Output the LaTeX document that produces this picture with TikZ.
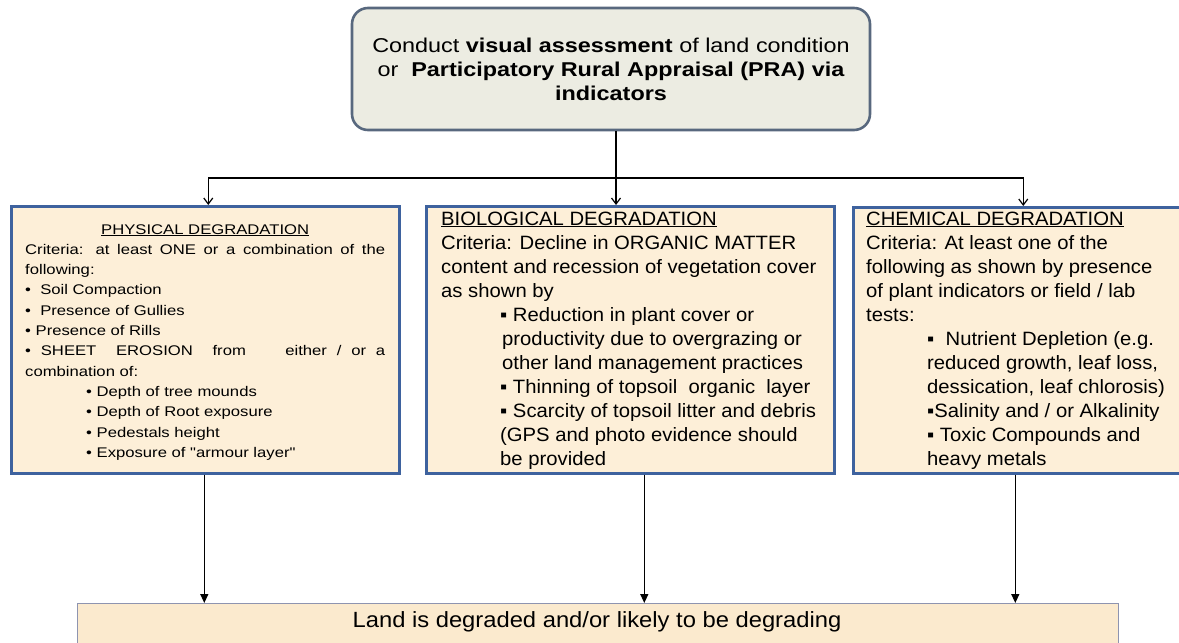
\documentclass[tikz,border=0pt]{standalone}
\usepackage{fontspec}
\setmainfont{Liberation Sans}
\newfontfamily\topf[FakeStretch=1.17]{Liberation Sans}
\newfontfamily\leftf[FakeStretch=1.19]{Liberation Sans}
\newfontfamily\midf[FakeStretch=1.05]{Liberation Sans}
\newfontfamily\landf[FakeStretch=1.08]{Liberation Sans}
\usetikzlibrary{arrows.meta}
\definecolor{sidefill}{RGB}{253,239,216}
\definecolor{sideedge}{RGB}{62,98,158}
\definecolor{topfill}{RGB}{236,236,226}
\definecolor{topedge}{RGB}{88,104,126}
\definecolor{landfill}{RGB}{251,234,206}
\definecolor{landedge}{RGB}{142,148,176}
\tikzset{
  sidebox/.style={draw=sideedge, fill=sidefill, line width=2.6pt, rectangle, anchor=north west, inner sep=0pt},
  topbox/.style={draw=topedge, fill=topfill, line width=2.6pt, rounded corners=16pt, inner sep=0pt, align=center,
    font={\topf\fontsize{20}{24}\selectfont}},
  landbox/.style={draw=landedge, fill=landfill, line width=1pt, rectangle, anchor=north west, inner sep=0pt},
  txt/.style={inner sep=0pt, anchor=base west},
  openarr/.style={-{Straight Barb[length=6pt,width=9pt]}, line width=1.2pt},
  conn/.style={line width=1.2pt},
  triarr/.style={-{Triangle[length=9pt,width=8pt]}, line width=1.3pt},
}
\begin{document}
\begin{tikzpicture}[x=1pt,y=-1pt]
\useasboundingbox[fill=white] (0,0) rectangle (1179,643);
% top box
\node[topbox, minimum width=518pt, minimum height=122pt] (top) at (611,69)
  {Conduct \textbf{visual assessment} of land condition\\
   or\ \ \textbf{Participatory Rural Appraisal (PRA) via}\\
   \textbf{indicators}};
% side boxes
\node[sidebox, minimum width=388pt, minimum height=267pt] (phys) at (10,205) {};
\node[sidebox, minimum width=408pt, minimum height=267pt] (bio) at (425,205) {};
\node[sidebox, minimum width=340pt, minimum height=266pt] (chem) at (852,206) {};
% bottom box
\node[landbox, minimum width=1041pt, minimum height=60pt] (land) at (77,603) {};
\node[inner sep=0pt] (landtxt) at (597,622) {\landf\fontsize{22}{26}\selectfont Land is degraded and/or likely to be degrading};
% physical text
\node[txt] (phystxt) at (25,234) {\begin{minipage}[t]{360pt}\leftf\fontsize{14}{20.3}\selectfont
\parindent=0pt \hyphenpenalty=10000 \emergencystretch=2em
\centerline{\underline{PHYSICAL DEGRADATION}}
Criteria: at least ONE or a combination of the\linebreak following:\par
•\ \ Soil Compaction\par
•\ \ Presence of Gullies\par
• Presence of Rills\par
• SHEET\ \ EROSION\ \ from\ \ \ \ either / or a\linebreak combination of:\par
\hspace*{61pt}• Depth of tree mounds\par
\hspace*{61pt}• Depth of Root exposure\par
\hspace*{61pt}• Pedestals height\par
\hspace*{61pt}• Exposure of "armour layer"\par
\end{minipage}};
% biological text
\node[txt] (biotxt) at (441,225) {\begin{minipage}[t]{385pt}\midf\fontsize{19.3}{24}\selectfont
\parindent=0pt \raggedright
\underline{BIOLOGICAL DEGRADATION}\\
Criteria: Decline in ORGANIC MATTER\\
content and recession of vegetation cover\\
as shown by\\
\hspace*{59pt}▪ Reduction in plant cover or\\
\hspace*{61pt}productivity due to overgrazing or\\
\hspace*{61pt}other land management practices\\
\hspace*{59pt}▪ Thinning of topsoil\ \ organic\ \ layer\\
\hspace*{59pt}▪ Scarcity of topsoil litter and debris\\
\hspace*{59pt}(GPS and photo evidence should\\
\hspace*{59pt}be provided
\end{minipage}};
% chemical text
\node[txt] (chemtxt) at (866,225) {\begin{minipage}[t]{310pt}\midf\fontsize{19.3}{24}\selectfont
\parindent=0pt \raggedright
\underline{CHEMICAL DEGRADATION}\\
Criteria: At least one of the\\
following as shown by presence\\
of plant indicators or field / lab\\
tests:\\
\hspace*{61pt}▪\ \ Nutrient Depletion (e.g.\\
\hspace*{61pt}reduced growth, leaf loss,\\
\hspace*{61pt}dessication, leaf chlorosis)\\
\hspace*{61pt}▪Salinity and / or Alkalinity\\
\hspace*{61pt}▪ Toxic Compounds and\\
\hspace*{61pt}heavy metals
\end{minipage}};
% connectors
\coordinate (j) at (616,178);
\draw[conn] (top.south -| j) -- (j);
\draw[openarr] (j) -| ([xshift=3pt]phys.north);
\draw[openarr] (j) -- (j |- bio.north);
\draw[openarr] (j) -| (chem.north);
\draw[triarr] ([xshift=-1pt]phys.south) -- ([xshift=-1pt]phys.south |- land.north);
\draw[triarr] ([xshift=14pt]bio.south) -- ([xshift=14pt]bio.south |- land.north);
\draw[triarr] ([xshift=-8pt]chem.south) -- ([xshift=-8pt]chem.south |- land.north);
\end{tikzpicture}
\end{document}
